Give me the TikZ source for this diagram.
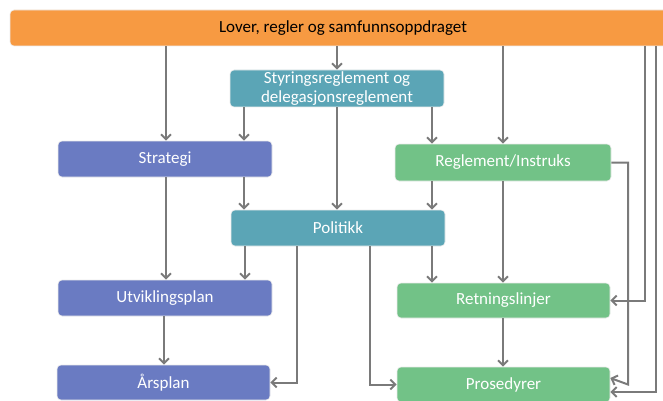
\documentclass[tikz,border=0pt]{standalone}
\usepackage{fontspec}
\setmainfont{Carlito}
\usetikzlibrary{arrows.meta}

\definecolor{lovorange}{HTML}{F79A42}
\definecolor{teal}{HTML}{5BA5B6}
\definecolor{plan}{HTML}{6A7BC2}
\definecolor{regel}{HTML}{72C287}
\definecolor{linje}{HTML}{7A7A7A}

\tikzset{
  box/.style={rectangle, rounded corners=4pt, draw=white!85!gray,
    line width=0.6pt, text=white, font=\fontsize{17}{19}\selectfont,
    align=center, inner sep=0pt},
  arr/.style={draw=linje, line width=2pt,
    -{Straight Barb[length=5pt,width=10pt,line width=2pt]}}
}

\begin{document}
\begin{tikzpicture}[x=1pt, y=-1pt]

    \useasboundingbox (0,0) rectangle (663,401);
    \clip (0,0) rectangle (663,401);

    \node[box, fill=lovorange, text=black,
    minimum width=666pt,
    minimum height=36pt] (lov) at (343,28) {Lover, regler og samfunnsoppdraget};

    \node[box, fill=teal,
    minimum width=214pt,
    minimum height=37pt] (sty) at (337,88.5) {Styringsreglement og\\delegasjonsreglement};

    \node[box, fill=plan,
    minimum width=214pt,
    minimum height=36pt] (str) at (165,159) {Strategi};

    \node[box, fill=regel,
    minimum width=216pt,
    minimum height=37pt] (reg) at (503,162.5) {Reglement/Instruks};

    \node[box, fill=teal,
    minimum width=214pt,
    minimum height=36pt] (pol) at (338,228) {Politikk};

    \node[box, fill=plan,
    minimum width=214pt,
    minimum height=36pt] (utv) at (165,298) {Utviklingsplan};

    \node[box, fill=regel,
    minimum width=213pt,
    minimum height=35pt] (ret) at (503.5,300.5) {Retningslinjer};

    \node[box, fill=plan,
    minimum width=213pt,
    minimum height=35pt] (ars) at (163.5,382.5) {Årsplan};

    \node[box, fill=regel,
    minimum width=213pt,
    minimum height=35pt] (pro) at (503.5,384.5) {Prosedyrer};

    \draw[arr] (lov.south -| 166,0) -- (str.north -| 166,0);
    \draw[arr] (lov.south -| 337,0) -- (sty.north -| 337,0);
    \draw[arr] (lov.south -| 503,0) -- (reg.north -| 503,0);

    \draw[arr] (sty.south -| 244,0) -- (str.north -| 244,0);
    \draw[arr] (sty.south -| 337,0) -- (pol.north -| 337,0);
    \draw[arr] (sty.south -| 432,0) -- (reg.north -| 432,0);

    \draw[arr] (str.south -| 166,0) -- (utv.north -| 166,0);
    \draw[arr] (str.south -| 244,0) -- (pol.north -| 244,0);

    \draw[arr] (reg.south -| 432,0) -- (pol.north -| 432,0);
    \draw[arr] (reg.south -| 503,0) -- (ret.north -| 503,0);

    \draw[arr] (pol.south -| 245,0) -- (utv.north -| 245,0);
    \draw[arr] (pol.south -| 432,0) -- (ret.north -| 432,0);

    \draw[arr] (utv.south -| 164,0) -- (ars.north -| 164,0);
    \draw[arr] (ret.south -| 503,0) -- (pro.north -| 503,0);

    \draw[arr] (pol.south -| 297,0) |- (ars.east);
    \draw[arr] (pol.south -| 370,0) |- (pro.west);

    \draw[arr] (reg.east) -| (628,0 |- pro.east) -- ([yshift=6.5pt]pro.east);
    \draw[arr] (lov.south -| 645,0) |- (ret.east);
    \draw[arr] (lov.south -| 656,0) |- ([yshift=-7.5pt]pro.east);
    \end{tikzpicture}
\end{document}
